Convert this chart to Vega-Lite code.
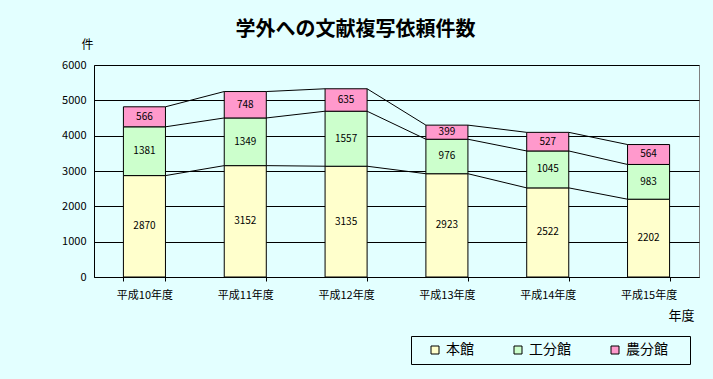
{
  "$schema": "https://vega.github.io/schema/vega-lite/v6.json",
  "width": 605,
  "height": 212,
  "autosize": {"type": "none"},
  "padding": {"left": 94, "top": 65, "right": 14, "bottom": 102},
  "background": "#E3FFFF",
  "config": {
    "font": "Noto Sans CJK JP",
    "view": {"stroke": "#808080", "strokeWidth": 1}
  },
  "title": {
    "text": "学外への文献複写依頼件数",
    "fontSize": 20,
    "fontWeight": "bold",
    "font": "Noto Sans CJK JP",
    "color": "black",
    "anchor": "middle",
    "dx": -41,
    "offset": -2
  },
  "data": {
    "values": [
      {"year": "平成10年度", "series": "本館", "value": 2870},
      {"year": "平成10年度", "series": "工分館", "value": 1381},
      {"year": "平成10年度", "series": "農分館", "value": 566},
      {"year": "平成11年度", "series": "本館", "value": 3152},
      {"year": "平成11年度", "series": "工分館", "value": 1349},
      {"year": "平成11年度", "series": "農分館", "value": 748},
      {"year": "平成12年度", "series": "本館", "value": 3135},
      {"year": "平成12年度", "series": "工分館", "value": 1557},
      {"year": "平成12年度", "series": "農分館", "value": 635},
      {"year": "平成13年度", "series": "本館", "value": 2923},
      {"year": "平成13年度", "series": "工分館", "value": 976},
      {"year": "平成13年度", "series": "農分館", "value": 399},
      {"year": "平成14年度", "series": "本館", "value": 2522},
      {"year": "平成14年度", "series": "工分館", "value": 1045},
      {"year": "平成14年度", "series": "農分館", "value": 527},
      {"year": "平成15年度", "series": "本館", "value": 2202},
      {"year": "平成15年度", "series": "工分館", "value": 983},
      {"year": "平成15年度", "series": "農分館", "value": 564}
    ]
  },
  "transform": [
    {"calculate": "indexof(['本館','工分館','農分館'], datum.series)", "as": "ord"},
    {"stack": "value", "groupby": ["year"], "sort": [{"field": "ord", "order": "ascending"}], "as": ["y0", "y1"]},
    {"calculate": "(datum.y0 + datum.y1) / 2", "as": "ymid"}
  ],
  "encoding": {
    "x": {
      "field": "year",
      "type": "nominal",
      "sort": null,
      "scale": {"paddingInner": 0.583, "paddingOuter": 0.2917},
      "axis": {
        "title": "年度",
        "titleAngle": 0,
        "titleX": 587,
        "titleY": 32,
        "titleFontSize": 13,
        "titleFontWeight": "normal",
        "titleColor": "black",
        "labelAngle": 0,
        "labelFontSize": 11,
        "labelColor": "black",
        "labelPadding": 8,
        "tickBand": "extent",
        "tickSize": 4,
        "tickColor": "black",
        "domainColor": "black"
      }
    }
  },
  "layer": [
    {
      "mark": {"type": "bar", "stroke": "black", "strokeWidth": 1},
      "encoding": {
        "y": {
          "field": "y0",
          "type": "quantitative",
          "scale": {"domain": [0, 6000]},
          "axis": {
            "title": "件",
            "titleAngle": 0,
            "titleX": -7,
            "titleY": -14,
            "titleFontSize": 12,
            "titleFontWeight": "normal",
            "titleColor": "black",
            "titleAlign": "center",
            "values": [0, 1000, 2000, 3000, 4000, 5000, 6000],
            "format": "d",
            "labelOverlap": false,
            "labelFontSize": 11,
            "labelColor": "black",
            "labelPadding": 8,
            "ticks": false,
            "domainColor": "black",
            "gridColor": "black",
            "gridOpacity": 1
          }
        },
        "y2": {"field": "y1"},
        "color": {
          "field": "series",
          "type": "nominal",
          "scale": {"domain": ["本館", "工分館", "農分館"], "range": ["#FFFFCC", "#CCFFCC", "#FF99CC"]},
          "legend": {
            "title": " ",
            "titleOrient": "right",
            "titlePadding": 15,
            "titleFontSize": 14,
            "orient": "none",
            "legendX": 317,
            "legendY": 271,
            "direction": "horizontal",
            "columns": 3,
            "columnPadding": 27,
            "padding": 7,
            "strokeColor": "black",
            "fillColor": "#E3FFFF",
            "symbolType": "square",
            "symbolSize": 64,
            "symbolStrokeColor": "black",
            "symbolStrokeWidth": 1,
            "symbolOpacity": 1,
            "symbolOffset": 10,
            "labelFontSize": 14,
            "labelColor": "black",
            "labelOffset": 4
          }
        }
      }
    },
    {
      "transform": [
        {"window": [{"op": "lead", "field": "y1", "as": "ny1"}, {"op": "lead", "field": "year", "as": "nyear"}], "groupby": ["series"], "sort": [{"field": "year", "order": "ascending"}]},
        {"filter": "datum.nyear != null"}
      ],
      "mark": {"type": "rule", "color": "black", "strokeWidth": 1},
      "encoding": {
        "x": {"field": "year", "type": "nominal", "sort": null, "bandPosition": 1},
        "x2": {"field": "nyear", "bandPosition": 0},
        "y": {
          "field": "y1",
          "type": "quantitative",
          "axis": {
            "title": "件",
            "titleAngle": 0,
            "titleX": -7,
            "titleY": -14,
            "titleFontSize": 12,
            "titleFontWeight": "normal",
            "titleColor": "black",
            "titleAlign": "center",
            "values": [0, 1000, 2000, 3000, 4000, 5000, 6000],
            "format": "d",
            "labelOverlap": false,
            "labelFontSize": 11,
            "labelColor": "black",
            "labelPadding": 8,
            "ticks": false,
            "domainColor": "black",
            "gridColor": "black",
            "gridOpacity": 1
          }
        },
        "y2": {"field": "ny1"}
      }
    },
    {
      "mark": {"type": "text", "fontSize": 10, "color": "black", "baseline": "middle", "align": "center"},
      "encoding": {
        "y": {
          "field": "ymid",
          "type": "quantitative",
          "axis": {
            "title": "件",
            "titleAngle": 0,
            "titleX": -7,
            "titleY": -14,
            "titleFontSize": 12,
            "titleFontWeight": "normal",
            "titleColor": "black",
            "titleAlign": "center",
            "values": [0, 1000, 2000, 3000, 4000, 5000, 6000],
            "format": "d",
            "labelOverlap": false,
            "labelFontSize": 11,
            "labelColor": "black",
            "labelPadding": 8,
            "ticks": false,
            "domainColor": "black",
            "gridColor": "black",
            "gridOpacity": 1
          }
        },
        "text": {"field": "value", "type": "quantitative"}
      }
    }
  ]
}
